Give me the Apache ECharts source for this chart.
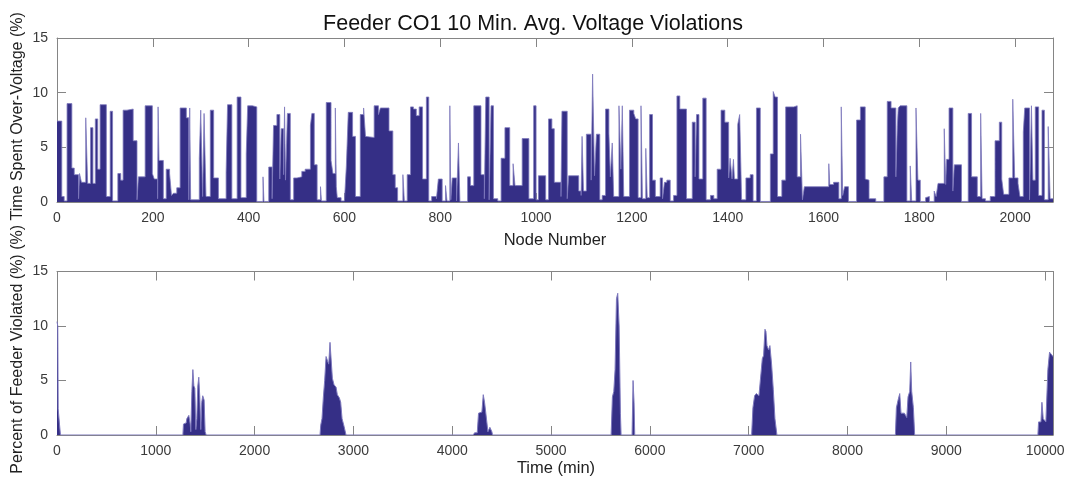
<!DOCTYPE html>
<html>
<head>
<meta charset="utf-8">
<script src="https://cdn.jsdelivr.net/npm/echarts@6/dist/echarts.min.js"></script>
<style>
html,body{margin:0;padding:0;background:#fff;}
#c{width:1072px;height:481px;}
</style>
</head>
<body>
<div id="c"></div>
<script>
// ---- Top panel: time spent over-voltage per node (step runs: node where a value starts) ----
const nodeStart = [0,10,15,21,31,36,45,47,51,60,64,70,75,80,85,90,103,111,116,127,133,138,146,159,167,170,184,199,203,210,211,213,215,222,228,235,239,243,250,257,270,275,277,279,297,300,304,307,311,320,327,337,353,356,365,376,384,395,398,408,417,430,432,442,449,452,459,465,468,473,475,477,481,487,494,501,511,518,529,532,537,543,550,552,562,572,576,581,583,585,593,600,604,608,617,623,633,640,644,647,662,671,675,693,701,706,711,722,725,731,738,744,750,756,763,771,776,782,792,796,804,811,814,820,822,825,834,838,841,857,863,870,885,892,895,902,906,911,920,927,935,945,952,956,971,985,995,1000,1005,1020,1026,1033,1038,1052,1054,1065,1068,1089,1094,1096,1099,1105,1115,1118,1122,1126,1133,1138,1145,1152,1155,1159,1162,1173,1177,1180,1183,1195,1204,1208,1213,1219,1222,1229,1232,1237,1243,1249,1259,1264,1268,1273,1280,1287,1294,1300,1314,1326,1332,1335,1340,1348,1355,1364,1371,1378,1386,1394,1402,1405,1409,1412,1414,1421,1425,1429,1438,1447,1453,1460,1468,1489,1495,1499,1504,1513,1521,1538,1545,1552,1556,1560,1611,1613,1621,1632,1637,1640,1644,1652,1669,1677,1687,1691,1695,1709,1726,1733,1741,1751,1754,1756,1760,1774,1781,1784,1793,1797,1802,1813,1817,1821,1831,1835,1839,1852,1855,1857,1862,1870,1873,1888,1902,1909,1921,1928,1931,1938,1948,1958,1967,1972,1976,1987,1995,1999,2006,2010,2017,2020,2030,2034,2037,2042,2049,2056,2061,2069,2073];
const overVoltage = [7.4,0.5,0.1,9.0,3.1,2.5,0.3,2.6,1.8,7.7,1.7,6.8,1.7,7.6,3.0,8.9,0.5,8.3,0.1,2.6,2.0,8.4,8.5,5.6,0.2,2.3,8.8,2.6,2.1,0.3,8.7,3.8,3.8,0.3,3.0,2.6,0.6,0.8,1.3,8.6,7.7,0.2,8.6,0.2,4.0,8.4,0.5,8.1,0.5,8.4,2.2,0.3,2.7,8.9,0.3,9.6,0.4,4.4,8.8,8.7,0.05,2.3,0.05,3.2,0.3,7.0,8.0,2.1,6.7,2.5,8.7,2.0,8.1,0.2,2.2,2.3,2.8,3.0,7.0,8.1,3.4,0.2,1.4,0.1,9.1,3.8,2.6,8.6,1.4,0.4,0.1,0.1,3.3,8.2,6.0,0.5,8.0,8.6,6.0,5.9,8.8,8.0,8.6,6.5,2.5,1.3,0.1,2.5,0.1,2.5,8.7,8.5,7.9,8.7,2.1,9.6,0.1,0.5,0.3,2.1,0.1,1.5,0.1,8.8,0.2,2.2,0.1,5.4,0.05,2.3,1.5,8.8,2.5,0.3,9.6,0.2,8.8,0.3,0.1,4.0,6.8,1.5,3.5,1.5,5.8,0.3,8.8,0.2,2.4,0.2,7.6,6.7,1.8,0.5,8.3,0.3,2.4,1.0,0.6,6.0,1.0,6.2,2.0,11.7,2.4,6.2,0.2,0.6,8.5,6.3,2.3,5.4,0.5,8.8,3.0,8.8,0.5,8.4,8.1,7.6,0.4,8.8,0.3,4.9,0.4,8.0,2.0,0.5,2.2,0.3,1.8,2.0,0.1,0.6,9.7,8.5,0.3,7.3,2.3,8.0,2.1,9.5,0.2,0.6,0.3,3.0,8.4,7.3,2.2,4.0,2.1,3.9,2.1,7.1,8.0,0.2,2.2,2.5,0.1,8.6,0.05,4.4,10.1,9.6,0.5,2.0,8.7,8.8,2.3,6.2,0.2,1.4,3.5,1.6,1.8,0.3,8.7,0.6,1.4,0.05,7.5,8.7,2.1,2.0,0.3,0.05,2.3,9.2,8.6,2.3,6.9,8.6,8.8,0.1,3.3,0.1,8.6,2.0,0.05,0.4,0.5,0.05,1.0,0.5,1.7,6.7,1.6,3.9,8.6,1.0,3.4,0.05,8.1,2.3,0.5,8.1,0.3,0.1,0.5,5.6,7.3,2.1,0.7,2.2,9.4,2.2,1.7,0.5,6.4,8.6,0.2,8.8,2.0,8.7,0.6,8.4,0.2,6.9,0.3];
const nodeMax = 2079;

// ---- Bottom panel: percent of feeder violated over time ----
const timeMin = [0,8,12,25,35,1274,1280,1307,1314,1327,1334,1348,1354,1365,1375,1385,1395,1405,1415,1425,1435,1445,1455,1465,1475,1489,1499,1510,2662,2669,2682,2696,2709,2723,2736,2750,2763,2777,2787,2804,2824,2837,2858,2871,2885,2905,2925,4212,4226,4253,4266,4300,4314,4327,4340,4361,4381,4401,4408,5608,5621,5635,5648,5662,5675,5689,5702,5709,5820,5830,5840,5847,7030,7043,7060,7077,7104,7124,7138,7151,7165,7175,7185,7202,7215,7232,7249,7266,7286,8485,8495,8512,8529,8542,8576,8600,8613,8630,8640,8650,8667,8680,9927,9934,9958,9968,9981,10008,10028,10045,10062,10080];
const pctViolated = [10.4,10.0,2.4,1.0,0,0,1.0,1.1,1.5,1.5,1.8,1.0,0.3,4.0,6.0,4.5,4.3,0.5,1.5,4.5,5.3,3.5,0.5,3.0,3.6,3.2,0.3,0,0,0.9,1.5,3.5,5.0,7.2,7.3,6.5,8.5,8.4,5.2,4.6,4.4,3.7,3.4,3.0,1.5,0.8,0,0,0.2,0.2,2.0,2.1,3.7,3.0,2.0,0.3,0.7,0.3,0,0,3.5,4.0,6.0,12.5,13.0,10.0,2.0,0,0,5.0,3.0,0,0,2.5,3.6,3.8,3.6,3.7,7.0,7.3,9.7,9.5,8.2,7.8,8.2,6.5,4.2,1.5,0,0,2.5,3.2,3.8,2.0,2.0,1.6,3.5,4.0,6.7,4.0,2.5,0,0,1.2,1.2,3.0,1.5,1.2,6.0,7.6,7.6,7.2];
const timeMax = 10080;

const yTicks = {min: 0, max: 15, interval: 5};

const FONT = '"Liberation Sans", Arial, Helvetica, sans-serif';
const AXIS_C = '#858585';
const LABEL_C = '#3a3a3a';
const FILL_C = '#352f86';
const EDGE_C = '#7d78bd';

const topData = nodeStart.map((n, i) => [n, overVoltage[i]]);
topData.push([nodeMax, overVoltage[overVoltage.length - 1]]);
const botData = timeMin.map((t, i) => [t, pctViolated[i]]);

const plain = v => String(v);

function xAx(gi, max, interval, pos, labels) {
  return {
    type: 'value', gridIndex: gi, min: 0, max: max, interval: interval, position: pos,
    axisLine: {show: true, onZero: false, lineStyle: {color: AXIS_C, width: 1}},
    axisTick: {show: true, inside: true, length: 9, lineStyle: {color: AXIS_C}},
    axisLabel: {show: labels, showMaxLabel: false, formatter: plain, color: LABEL_C, fontSize: 14, fontFamily: FONT, margin: 9},
    splitLine: {show: false}
  };
}
function yAx(gi, pos, labels) {
  return {
    type: 'value', gridIndex: gi, min: yTicks.min, max: yTicks.max, interval: yTicks.interval, position: pos,
    axisLine: {show: true, onZero: false, lineStyle: {color: AXIS_C, width: 1}},
    axisTick: {show: true, inside: true, length: 9, lineStyle: {color: AXIS_C}},
    axisLabel: {show: labels, formatter: plain, color: LABEL_C, fontSize: 14, fontFamily: FONT, margin: 9},
    splitLine: {show: false}
  };
}

const chart = echarts.init(document.getElementById('c'), null, {renderer: 'canvas'});
chart.setOption({
  animation: false,
  backgroundColor: '#ffffff',
  grid: [
    {left: 57, right: 19, top: 38, height: 164},
    {left: 57, right: 19, top: 271.5, height: 163.5}
  ],
  xAxis: [
    xAx(0, nodeMax, 200, 'bottom', true),
    xAx(0, nodeMax, 200, 'top', false),
    xAx(1, timeMax, 1000, 'bottom', true),
    xAx(1, timeMax, 1000, 'top', false)
  ],
  yAxis: [
    yAx(0, 'left', true),
    yAx(0, 'right', false),
    yAx(1, 'left', true),
    yAx(1, 'right', false)
  ],
  series: [
    {
      type: 'line', xAxisIndex: 0, yAxisIndex: 0, data: topData, step: 'end',
      showSymbol: false, silent: true,
      lineStyle: {color: EDGE_C, width: 0.8},
      areaStyle: {color: FILL_C, opacity: 1}
    },
    {
      type: 'line', xAxisIndex: 2, yAxisIndex: 2, data: botData,
      showSymbol: false, silent: true,
      lineStyle: {color: EDGE_C, width: 1},
      areaStyle: {color: FILL_C, opacity: 1}
    }
  ],
  graphic: [
    {type: 'text', x: 533, y: 24, style: {text: 'Feeder CO1 10 Min. Avg. Voltage Violations', font: '21.5px ' + FONT, fill: '#111', textAlign: 'center', textVerticalAlign: 'middle'}},
    {type: 'text', x: 555, y: 240, style: {text: 'Node Number', font: '16.5px ' + FONT, fill: '#222', textAlign: 'center', textVerticalAlign: 'middle'}},
    {type: 'text', x: 556, y: 468, style: {text: 'Time (min)', font: '16.5px ' + FONT, fill: '#222', textAlign: 'center', textVerticalAlign: 'middle'}},
    {type: 'text', x: 18, y: 131, rotation: Math.PI / 2, style: {text: '(%) Time Spent Over-Voltage (%)', font: '16px ' + FONT, fill: '#222', textAlign: 'center', textVerticalAlign: 'middle'}},
    {type: 'text', x: 18, y: 364, rotation: Math.PI / 2, style: {text: 'Percent of Feeder Violated (%)', font: '16px ' + FONT, fill: '#222', textAlign: 'center', textVerticalAlign: 'middle'}}
  ]
});
</script>
</body>
</html>
